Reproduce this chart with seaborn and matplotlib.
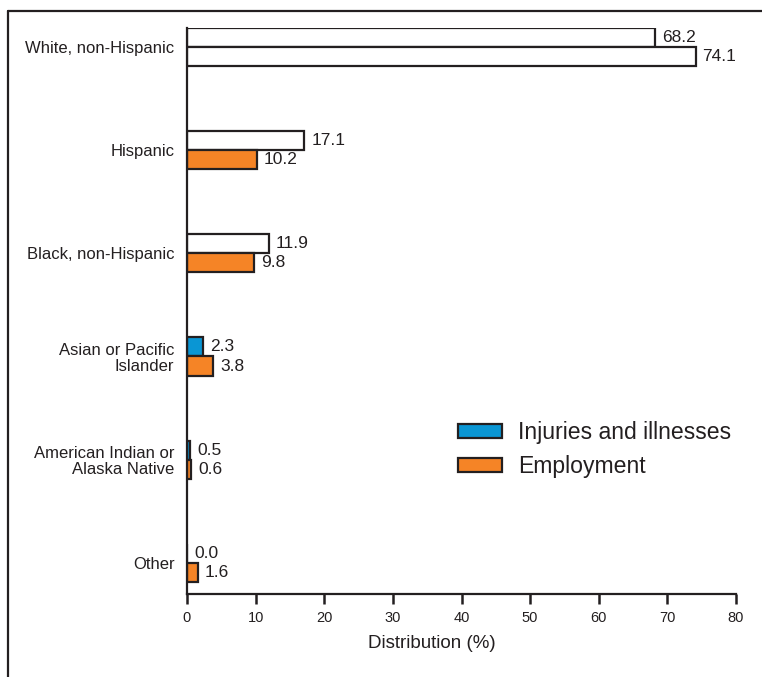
import matplotlib
matplotlib.use("Agg")
import matplotlib.pyplot as plt
from matplotlib.patches import Patch
from matplotlib.lines import Line2D
import seaborn as sns
import pandas as pd

# Données
categories = ["White, non-Hispanic", "Hispanic", "Black, non-Hispanic",
              "Asian or Pacific\nIslander", "American Indian or\nAlaska Native", "Other"]
series = ["Injuries and illnesses", "Employment"]
injuries = [68.2, 17.1, 11.9, 2.3, 0.5, 0.0]
employment = [74.1, 10.2, 9.8, 3.8, 0.6, 1.6]

# barres dessinées sans remplissage dans l'original (indices de catégorie)
blanc_inj = [0, 1, 2]
blanc_emp = [0]

df = pd.DataFrame({
    "groupe": categories * 2,
    "serie": [series[0]] * len(categories) + [series[1]] * len(categories),
    "pct": injuries + employment,
})

bleu = "#0a96d4"
orange = "#f58426"
bord = "#231f20"

sns.set_style("white")
plt.rcParams["font.family"] = ["Liberation Sans", "DejaVu Sans"]

fig = plt.figure(figsize=(7.62, 6.77), dpi=100)
ax = fig.add_axes([0.2454, 0.1226, 0.7205, 0.836])

sns.barplot(data=df, y="groupe", x="pct", hue="serie", order=categories,
            hue_order=series, palette=[bleu, orange], saturation=1, orient="h",
            width=0.37, edgecolor=bord, linewidth=1.6, legend=False, ax=ax)

for i in blanc_inj:
    ax.containers[0][i].set_facecolor("white")
for i in blanc_emp:
    ax.containers[1][i].set_facecolor("white")

for cont, vals in zip(ax.containers, [injuries, employment]):
    ax.bar_label(cont, labels=[f"{v:.1f}" for v in vals], padding=5,
                 fontsize=12.5, color=bord)

ax.set_xlim(0, 80)
ax.set_ylim(5.30, -0.18)
ax.set_xticks(range(0, 81, 10))
ax.set_ylabel("")
ax.set_xlabel("Distribution (%)", fontsize=13.5, color=bord, va="center")
ax.xaxis.set_label_coords(0.446, -0.0866)

sns.despine(ax=ax)
for s in ["left", "bottom"]:
    ax.spines[s].set_linewidth(1.6)
    ax.spines[s].set_color(bord)

ax.tick_params(axis="x", bottom=True, length=7, width=1.8, color=bord, direction="out",
               labelsize=10.5, labelcolor=bord, pad=5)
ax.tick_params(axis="y", left=False, length=0, labelsize=12, labelcolor=bord, pad=9)
for t in ax.get_yticklabels():
    t.set_linespacing(1.1)

poignees = [Patch(facecolor=bleu, edgecolor=bord, linewidth=1.6),
            Patch(facecolor=orange, edgecolor=bord, linewidth=1.6)]
fig.legend(poignees, series, loc="upper left", bbox_to_anchor=(0.601, 0.378),
           frameon=False, fontsize=16.6, handlelength=1.9, handleheight=0.57,
           handletextpad=0.7, labelspacing=0.47, borderpad=0, borderaxespad=0,
           labelcolor=bord)

# cadre extérieur (coin haut-gauche)
fig.add_artist(Line2D([8 / 762, 8 / 762], [0, 1 - 11 / 677], transform=fig.transFigure,
                      color=bord, linewidth=1.6))
fig.add_artist(Line2D([8 / 762, 1], [1 - 11 / 677, 1 - 11 / 677], transform=fig.transFigure,
                      color=bord, linewidth=1.6))

fig.savefig("out.png", dpi=100)
plt.close()
